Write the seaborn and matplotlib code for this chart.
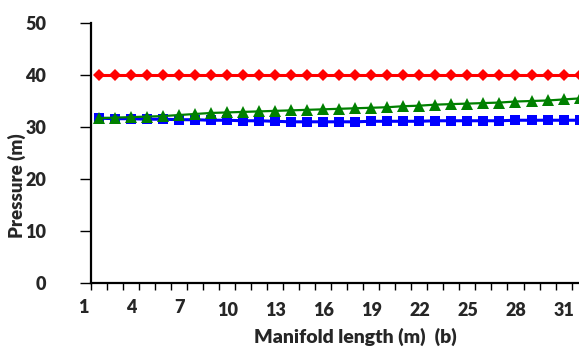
import numpy as np
import pandas as pd
import matplotlib
matplotlib.use("Agg")
import matplotlib.pyplot as plt
import matplotlib.transforms as mtransforms
import seaborn as sns

positions = list(range(1, 33))
red_vals = [40.0] * 32
blue_vals = [31.7, 31.6, 31.6, 31.5, 31.5, 31.4, 31.4, 31.3, 31.3, 31.2,
             31.2, 31.1, 31.0, 31.0, 31.0, 31.0, 31.0, 31.1, 31.1, 31.1,
             31.1, 31.2, 31.2, 31.2, 31.2, 31.2, 31.3, 31.3, 31.3, 31.3,
             31.3, 31.3]
green_vals = [31.7, 31.8, 31.9, 32.0, 32.1, 32.3, 32.5, 32.7, 32.8, 32.9,
              33.0, 33.1, 33.2, 33.3, 33.4, 33.5, 33.6, 33.7, 33.8, 34.0,
              34.1, 34.3, 34.4, 34.5, 34.6, 34.7, 34.9, 35.0, 35.1, 35.3,
              35.5, 35.6]
xtick_labels = ["1", "4", "7", "10", "13", "16", "19", "22", "25", "28", "31"]
ytick_vals = [0, 10, 20, 30, 40, 50]

sns.set_theme(style="white")
plt.rcParams['font.family'] = ['Lato', 'DejaVu Sans']

fig = plt.figure(figsize=(5.79, 3.55), dpi=100)
W, H = 579, 355
left_px, right_px = 90.7, 90.7 + 32 * 16.03
top_px, bot_px = 23, 283
ax = fig.add_axes([left_px / W, 1 - bot_px / H, (right_px - left_px) / W, (bot_px - top_px) / H])
ax_w = right_px - left_px
ax_h = bot_px - top_px

df = pd.DataFrame({"x": positions, "red": red_vals, "blue": blue_vals, "green": green_vals})

sns.lineplot(data=df, x="x", y="red", ax=ax, color="#FF0000", lw=2.2,
             marker="D", markersize=6.5, markeredgewidth=0)
sns.lineplot(data=df, x="x", y="blue", ax=ax, color="#0000FF", lw=2.2,
             marker="s", markersize=7, markeredgewidth=0)
sns.lineplot(data=df, x="x", y="green", ax=ax, color="#008000", lw=1.6,
             marker="^", markersize=8.5, markeredgewidth=0)

ax.set_xlim(0.5, 32.5)
ax.set_ylim(0, 50)

# tick marks between categories
ax.set_xticks([p + 0.5 for p in range(0, 32)])
ax.set_xticklabels([])
ax.tick_params(axis="x", which="major", length=5, width=1, color="black",
               direction="out", bottom=True)
label_pos = list(range(1, 32, 3))
ax.set_xticks(label_pos, minor=True)
ax.set_xticklabels(xtick_labels, minor=True, fontsize=13, fontweight="heavy")
ax.tick_params(axis="x", which="minor", length=0, pad=14)
for lab in ax.get_xticklabels(minor=True):
    dy = 3 if len(lab.get_text()) == 1 else 0
    lab.set_transform(lab.get_transform() +
                      mtransforms.ScaledTranslation(-15.5 / 100, dy / 100, fig.dpi_scale_trans))

ax.set_yticks(ytick_vals)
ax.set_yticklabels([str(v) for v in ytick_vals], fontsize=13, fontweight="heavy")
ax.tick_params(axis="y", length=8, width=1, color="black", direction="out", left=True, pad=24)

ax.set_xlabel("Manifold length (m)  (b)", fontsize=14, fontweight="heavy", va="center", ha="center")
ax.xaxis.set_label_coords((355.7 - left_px) / ax_w, (bot_px - 337) / ax_h)
ax.set_ylabel("Pressure (m)", fontsize=13.5, fontweight="heavy", va="center", ha="center")
ax.yaxis.set_label_coords((17 - left_px) / ax_w, (bot_px - 186) / ax_h)

for s in ["top", "right"]:
    ax.spines[s].set_visible(False)
for s in ["left", "bottom"]:
    ax.spines[s].set_color("black")
    ax.spines[s].set_linewidth(1.6)
ax.grid(False)

fig.savefig("out.png", dpi=100)
